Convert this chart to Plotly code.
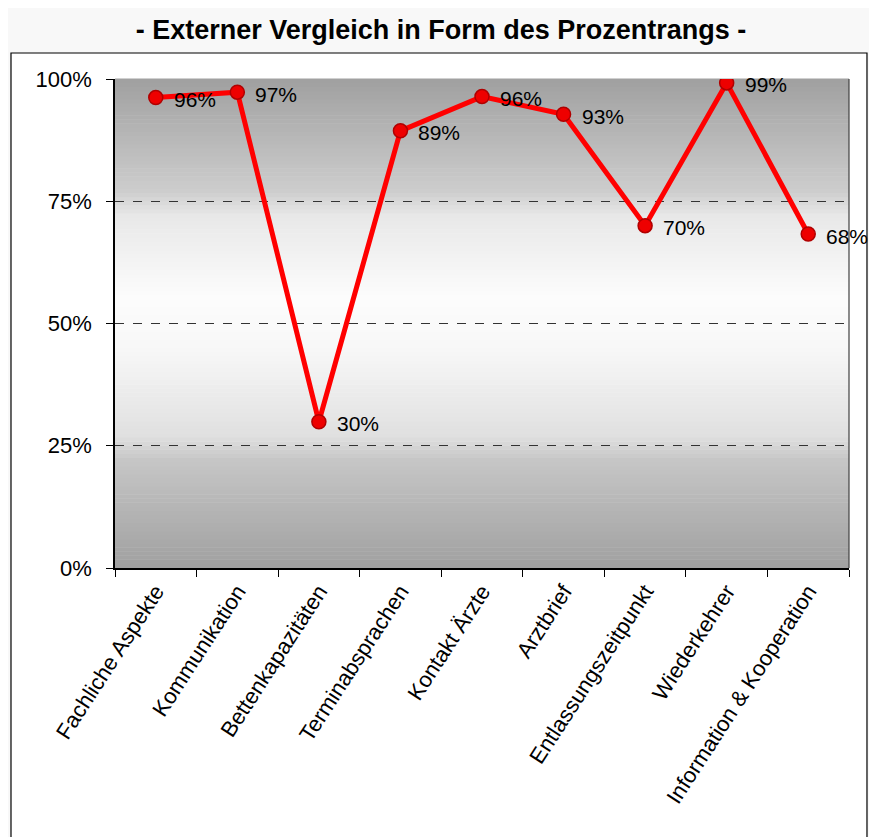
import plotly.graph_objects as go
import numpy as np

categories = ["Fachliche Aspekte", "Kommunikation", "Bettenkapazitäten", "Terminabsprachen",
              "Kontakt Ärzte", "Arztbrief", "Entlassungszeitpunkt", "Wiederkehrer",
              "Information & Kooperation"]
values = [96.2, 97.3, 29.9, 89.4, 96.4, 92.8, 70.0, 99.2, 68.3]
y_ticks = [0, 25, 50, 75, 100]
y_tick_labels = ["0%", "25%", "50%", "75%", "100%"]
title_text = "- Externer Vergleich in Form des Prozentrangs -"

FONT = "Liberation Sans, Arial, sans-serif"

fig = go.Figure()
fig.add_trace(go.Scatter(
    x=categories, y=values, mode="lines+markers",
    line=dict(color="#ff0000", width=5),
    marker=dict(size=14, color="#ee0000", line=dict(color="#b00000", width=1.5)),
    hoverinfo="skip", showlegend=False,
))

annotations = []
for c, v in zip(categories, values):
    annotations.append(dict(x=c, y=v, text=f"{round(v)}%", showarrow=False,
                            xanchor="left", yanchor="middle", xshift=16, yshift=-2,
                            font=dict(family=FONT, size=21, color="black")))

shapes = []
# outer white frame
shapes.append(dict(type="rect", xref="paper", yref="paper", x0=-0.1417, x1=1.0245,
                   y0=-0.7, y1=1.0532, fillcolor="white",
                   line=dict(color="black", width=1.2), layer="below"))
# gradient background of plot area
keys_f = [0.0, 0.22, 0.27, 0.45, 0.55, 0.72, 0.77, 1.0]
keys_c = [160, 198, 224, 248, 252, 232, 205, 160]
N = 120
for i in range(N):
    f0 = i / N
    f1 = (i + 1) / N
    g = int(round(np.interp((f0 + f1) / 2, keys_f, keys_c)))
    col = f"rgb({g},{g},{g})"
    shapes.append(dict(type="rect", xref="paper", yref="paper", x0=0, x1=1,
                       y0=f0, y1=f1 + 0.001, fillcolor=col, line=dict(width=0),
                       layer="below"))
# right border of plot area
shapes.append(dict(type="line", xref="paper", yref="paper", x0=1, x1=1, y0=0, y1=1,
                   line=dict(color="#404040", width=1.2), layer="above"))

fig.update_layout(
    width=877, height=837,
    margin=dict(l=107, r=36, t=71, b=277),
    paper_bgcolor="#f8f8f8",
    plot_bgcolor="rgba(0,0,0,0)",
    title=dict(text=f"<b>{title_text}</b>", x=433 / 877, xref="container", xanchor="center",
               y=1 - 22 / 837, yref="container", yanchor="middle",
               font=dict(family=FONT, size=27, color="black")),
    shapes=shapes,
    annotations=annotations,
    xaxis=dict(
        type="category", range=[-0.5, len(categories) - 0.5],
        tickson="boundaries", ticks="outside", ticklen=7, tickcolor="black",
        tickangle=-57, showgrid=False, showline=True, linecolor="black", linewidth=1.5,
        tickfont=dict(family=FONT, size=22, color="black"), zeroline=False,
    ),
    yaxis=dict(
        range=[0, 100], tickvals=y_ticks, ticktext=y_tick_labels,
        ticks="outside", ticklen=7, tickcolor="black",
        showgrid=True, gridcolor="#333333", gridwidth=1, griddash="dash",
        showline=True, linecolor="black", linewidth=1.5, zeroline=False,
        ticklabelstandoff=10,
        tickfont=dict(family=FONT, size=22, color="black"),
    ),
)

fig.write_html("out.html")
